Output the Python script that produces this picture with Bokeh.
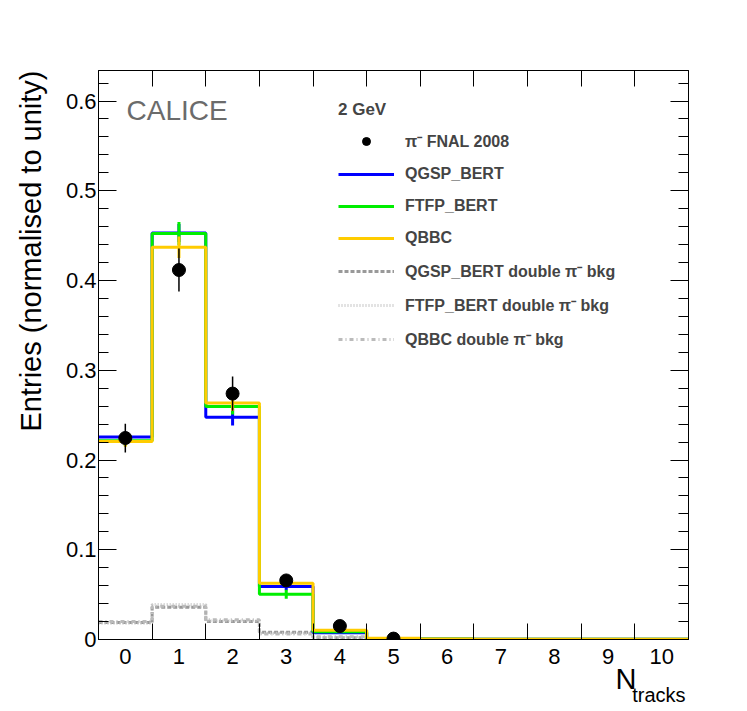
import numpy as np
from bokeh.plotting import figure
from bokeh.models import (LinearAxis, FixedTicker, Range1d, Label, Legend, LegendItem, Title)
from bokeh.embed import file_html
from bokeh.resources import INLINE

# ---------------- data ----------------
bins = [0, 1, 2, 3, 4, 5, 6, 7, 8, 9, 10]
edges = [-0.5, 0.5, 1.5, 2.5, 3.5, 4.5, 5.5, 6.5, 7.5, 8.5, 9.5, 10.5]

data_bins = [0, 1, 2, 3, 4, 5]
data_vals = [0.2245, 0.4117, 0.2740, 0.0658, 0.0150, 0.0010]
data_errs = [0.016, 0.024, 0.019, 0.006, 0.002, 0.001]

qgsp = [0.2255, 0.4530, 0.2475, 0.0590, 0.0075, 0.0008, 0.0005, 0.0004, 0.0003, 0.0003, 0.0003]
ftfp = [0.2215, 0.4523, 0.2597, 0.0505, 0.0085, 0.0008, 0.0005, 0.0004, 0.0003, 0.0003, 0.0003]
qbbc = [0.2207, 0.4370, 0.2635, 0.0628, 0.0104, 0.0015, 0.0005, 0.0004, 0.0003, 0.0003, 0.0003]
err_bins = [0, 1, 2, 3, 4]
qgsp_err = [0.006, 0.010, 0.009, 0.004, 0.001]
ftfp_err = [0.006, 0.013, 0.009, 0.005, 0.001]
qbbc_err = [0.006, 0.012, 0.009, 0.004, 0.001]

qgsp_bg = [0.019, 0.036, 0.020, 0.008, 0.002, 0.0, 0.0, 0.0, 0.0, 0.0, 0.0]
ftfp_bg = [0.018, 0.039, 0.021, 0.007, 0.002, 0.0, 0.0, 0.0, 0.0, 0.0, 0.0]
qbbc_bg = [0.020, 0.037, 0.022, 0.006, 0.003, 0.0, 0.0, 0.0, 0.0, 0.0, 0.0]

y_ticks = [0.0, 0.1, 0.2, 0.3, 0.4, 0.5, 0.6]
y_tick_labels = ["0", "0.1", "0.2", "0.3", "0.4", "0.5", "0.6"]
y_minor = [round(0.02 * i, 2) for i in range(32)]
x_tick_labels = [str(b) for b in bins]
y_title = "Entries (normalised to unity)"

FONT = "Liberation Sans"

p = figure(width=739, height=707, output_backend="svg", toolbar_location=None,
           x_axis_location=None, y_axis_location=None,
           x_range=Range1d(-0.5, 10.5), y_range=Range1d(0, 0.634),
           min_border_left=97, min_border_top=70, min_border_right=52, min_border_bottom=68,
           frame_width=590, frame_height=569)
p.outline_line_color = "black"
p.outline_line_width = 1
p.background_fill_color = "white"
p.border_fill_color = "white"
p.xgrid.grid_line_color = None
p.ygrid.grid_line_color = None


def y_axis(labels):
    ax = LinearAxis(ticker=FixedTicker(ticks=y_ticks, minor_ticks=y_minor),
                    major_tick_in=18, major_tick_out=0, minor_tick_in=10, minor_tick_out=0,
                    axis_line_color="black", major_tick_line_color="black",
                    minor_tick_line_color="black",
                    major_label_standoff=2)
    if labels:
        ax.major_label_overrides = dict(zip(y_ticks, y_tick_labels))
        ax.major_label_text_font = FONT
        ax.major_label_text_font_size = "22px"
        ax.major_label_text_color = "black"
    else:
        ax.major_label_text_font_size = "1px"
        ax.major_label_text_color = None
        ax.major_label_standoff = 0
    return ax


p.add_layout(y_axis(True), "left")
p.add_layout(y_axis(False), "right")

# y-axis title, right-aligned to the top of the frame
p.add_layout(Title(text=y_title, align="right", vertical_align="top", standoff=28,
                   text_font=FONT, text_font_size="29px", text_font_style="normal",
                   text_color="black"), "left")


def edge_axis():
    return LinearAxis(ticker=FixedTicker(ticks=edges[1:-1], minor_ticks=[]),
                      major_tick_in=16, major_tick_out=0,
                      minor_tick_line_color=None,
                      axis_line_color="black", major_tick_line_color="black",
                      major_label_text_font_size="1px", major_label_text_color=None,
                      major_label_standoff=0)


p.add_layout(edge_axis(), "above")
p.add_layout(edge_axis(), "below")
lab_ax = LinearAxis(ticker=FixedTicker(ticks=bins, minor_ticks=[]),
                    major_tick_in=0, major_tick_out=0, minor_tick_line_color=None,
                    major_tick_line_color=None, axis_line_color=None,
                    major_label_overrides=dict(zip(bins, x_tick_labels)),
                    major_label_text_font=FONT, major_label_text_font_size="22px",
                    major_label_text_color="black", major_label_standoff=9)
p.add_layout(lab_ax, "below")


def step_xy(vals):
    xs = np.repeat(np.array(edges), 2)[1:-1]
    ys = np.repeat(np.array(vals), 2)
    return xs, ys


# backgrounds
xs, ys = step_xy(qgsp_bg)
r_bg1 = p.line(xs, ys, line_color="#999999", line_width=3, line_dash="4 2")
xs, ys = step_xy(ftfp_bg)
r_bg2 = p.line(xs, ys, line_color="#c8c8c8", line_width=3, line_dash="1 2")
xs, ys = step_xy(qbbc_bg)
r_bg3 = p.line(xs, ys, line_color="#bbbbbb", line_width=3, line_dash="4 3 1 3")

# MC
series = [(qgsp, qgsp_err, "#0000ff"), (ftfp, ftfp_err, "#00ee00"), (qbbc, qbbc_err, "#ffcc00")]
mc_r = []
for vals, errs, col in series:
    xs, ys = step_xy(vals)
    r = p.line(xs, ys, line_color=col, line_width=3)
    mc_r.append(r)
    v = np.array(vals[:len(err_bins)])
    e = np.array(errs)
    p.segment(x0=err_bins, y0=v - e, x1=err_bins, y1=v + e, line_color=col, line_width=3)

# data
dv = np.array(data_vals)
de = np.array(data_errs)
p.segment(x0=data_bins, y0=dv - de, x1=data_bins, y1=dv + de, line_color="black", line_width=1.5)
r_data = p.scatter(data_bins, data_vals, size=13, marker="circle", fill_color="black", line_color="black")

legend = Legend(items=[
    LegendItem(label="π⁻ FNAL 2008", renderers=[r_data]),
    LegendItem(label="QGSP_BERT", renderers=[mc_r[0]]),
    LegendItem(label="FTFP_BERT", renderers=[mc_r[1]]),
    LegendItem(label="QBBC", renderers=[mc_r[2]]),
    LegendItem(label="QGSP_BERT double π⁻ bkg", renderers=[r_bg1]),
    LegendItem(label="FTFP_BERT double π⁻ bkg", renderers=[r_bg2]),
    LegendItem(label="QBBC double π⁻ bkg", renderers=[r_bg3]),
], location=(240, 289), title="2 GeV",
    title_text_font=FONT, title_text_font_style="bold", title_text_font_size="17px",
    title_standoff=10,
    label_text_font=FONT, label_text_font_style="bold", label_text_font_size="16px",
    glyph_width=56, glyph_height=20, label_height=20, spacing=12, label_standoff=11,
    padding=0, margin=0, border_line_color=None, background_fill_alpha=0)
p.add_layout(legend, "center")

p.add_layout(Label(x=28, y=529, x_units="screen", y_units="screen", text="CALICE",
                   text_font=FONT, text_font_size="28px", text_color="#6b6b6b",
                   text_baseline="alphabetic"))

# x-axis title N_tracks
p.add_layout(Title(text="N", align="right", vertical_align="top", offset=52, standoff=-8,
                   text_font=FONT, text_font_size="29px", text_font_style="normal",
                   text_color="black"), "below")
p.add_layout(Title(text="tracks", align="right", vertical_align="top", offset=3, standoff=-18,
                   text_font=FONT, text_font_size="20px", text_font_style="normal",
                   text_color="black"), "below")

open("out.html", "w").write(file_html(p, INLINE))
